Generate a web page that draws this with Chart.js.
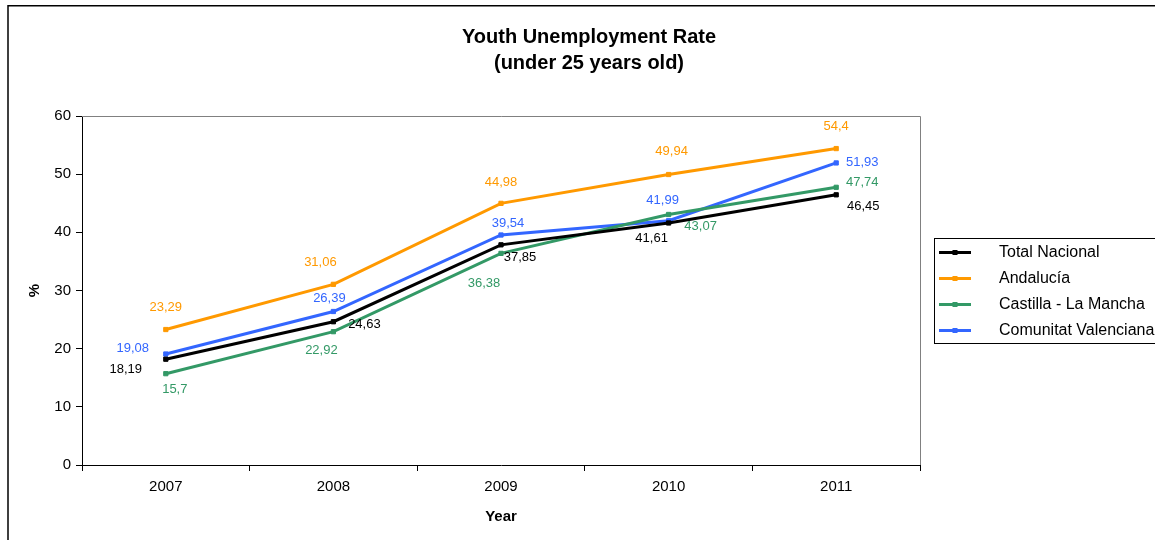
<!DOCTYPE html>
<html>
<head>
<meta charset="utf-8">
<script src="https://cdn.jsdelivr.net/npm/chart.js@4.4.1/dist/chart.umd.min.js"></script>
<style>
  html, body { margin: 0; padding: 0; background: #ffffff; }
  #wrap { width: 1155px; height: 540px; position: relative; }
</style>
</head>
<body>
<div id="wrap"><canvas id="c" width="1155" height="540"></canvas></div>
<script>
// ---- Data ----
const years = ['2007', '2008', '2009', '2010', '2011'];
const totalNacional = [18.19, 24.63, 37.85, 41.61, 46.45];
const andalucia = [23.29, 31.06, 44.98, 49.94, 54.4];
const castillaLaMancha = [15.7, 22.92, 36.38, 43.07, 47.74];
const comunitatValenciana = [19.08, 26.39, 39.54, 41.99, 51.93];
const seriesNames = ['Total Nacional', 'Andalucía', 'Castilla - La Mancha', 'Comunitat Valenciana'];
const titleLines = ['Youth Unemployment Rate', '(under 25 years old)'];
const yTitle = '%';
const xTitle = 'Year';

// ---- Styles ----
const FONT = '"Liberation Sans", Arial, sans-serif';
const lineColors = ['#000000', '#FF9900', '#339966', '#3366FF'];
const labelColors = ['#000000', '#FF9900', '#339966', '#3366FF'];
// label offsets (dx, dy) relative to each point, per series
const labelOffsets = [
  [[-40, 10], [31, 3], [19, 13], [-17, 15], [27, 12]],
  [[0, -22], [-13, -22], [0, -21], [3, -23], [0, -22]],
  [[9, 16], [-12, 19], [-17, 30], [32, 12], [26, -5]],
  [[-33, -6], [-4, -13], [7, -12], [-6, -20], [26, -1]]
];

const fmt = v => String(v).replace('.', ',');

const decorPlugin = {
  id: 'decor',
  beforeDraw(chart) {
    const ctx = chart.ctx;
    ctx.save();
    ctx.fillStyle = '#ffffff';
    ctx.fillRect(0, 0, chart.width, chart.height);
    // outer chart border (clipped at right/bottom)
    ctx.strokeStyle = '#000000';
    ctx.lineWidth = 1.5;
    ctx.strokeRect(8, 5.75, chart.width + 20, chart.height + 20);
    ctx.restore();
  },
  beforeDatasetsDraw(chart) {
    const ctx = chart.ctx;
    const a = chart.chartArea;
    ctx.save();
    ctx.strokeStyle = '#808080';
    ctx.lineWidth = 1;
    ctx.beginPath();
    ctx.moveTo(a.left, a.top + 0.5);
    ctx.lineTo(a.right + 0.5, a.top + 0.5);
    ctx.lineTo(a.right + 0.5, a.bottom);
    ctx.stroke();
    ctx.restore();
  },
  afterDraw(chart) {
    const ctx = chart.ctx;
    ctx.save();
    // title
    ctx.fillStyle = '#000000';
    ctx.font = 'bold 20px ' + FONT;
    ctx.textAlign = 'center';
    ctx.textBaseline = 'middle';
    ctx.fillText(titleLines[0], 589, 37);
    ctx.fillText(titleLines[1], 589, 63);

    // data labels
    ctx.font = '13px ' + FONT;
    chart.data.datasets.forEach((ds, di) => {
      const meta = chart.getDatasetMeta(di);
      meta.data.forEach((pt, i) => {
        const off = labelOffsets[di][i];
        ctx.fillStyle = labelColors[di];
        ctx.fillText(fmt(ds.data[i]), pt.x + off[0], pt.y + off[1]);
      });
    });

    // legend
    const lx = 934.5, ly = 238.5;
    ctx.strokeStyle = '#000000';
    ctx.lineWidth = 1;
    ctx.strokeRect(lx, ly, 400, 105);
    ctx.font = '16px ' + FONT;
    ctx.textAlign = 'left';
    chart.data.datasets.forEach((ds, di) => {
      const y = 252.5 + di * 26;
      ctx.strokeStyle = lineColors[di];
      ctx.lineWidth = 3;
      ctx.beginPath();
      ctx.moveTo(939, y);
      ctx.lineTo(971, y);
      ctx.stroke();
      ctx.fillStyle = lineColors[di];
      ctx.fillRect(952.5, y - 2.5, 5, 5);
      ctx.fillStyle = '#000000';
      ctx.fillText(ds.label, 999, y);
    });
    ctx.restore();
  }
};

const allSeries = [totalNacional, andalucia, castillaLaMancha, comunitatValenciana];

new Chart(document.getElementById('c'), {
  type: 'line',
  data: {
    labels: years,
    datasets: allSeries.map((d, i) => ({
      label: seriesNames[i],
      data: d,
      borderColor: lineColors[i],
      backgroundColor: lineColors[i],
      borderWidth: 3,
      pointStyle: 'rect',
      pointRadius: 3,
      pointBorderWidth: 1,
      pointBorderColor: lineColors[i],
      pointBackgroundColor: lineColors[i],
      tension: 0,
      fill: false
    }))
  },
  options: {
    responsive: false,
    animation: false,
    events: [],
    layout: { padding: { left: 10, top: 116, right: 235, bottom: 0 } },
    plugins: {
      legend: { display: false },
      title: { display: false },
      tooltip: { enabled: false }
    },
    scales: {
      x: {
        type: 'category',
        offset: true,
        grid: { display: true, offset: true, drawOnChartArea: false, tickLength: 6, color: '#000000', tickColor: '#000000' },
        border: { display: true, color: '#000000', width: 1 },
        ticks: { color: '#000000', font: { family: FONT, size: 15 }, padding: 7 },
        title: { display: true, text: xTitle, color: '#000000', font: { family: FONT, size: 15, weight: 'bold' }, padding: { top: 4, bottom: 14 } },
        afterFit(scale) { scale.height = 75; }
      },
      y: {
        min: 0, max: 60,
        ticks: { stepSize: 10, color: '#000000', font: { family: FONT, size: 15 }, padding: 5 },
        grid: { display: true, drawOnChartArea: false, tickLength: 6, color: '#000000', tickColor: '#000000' },
        border: { display: true, color: '#000000', width: 1 },
        title: { display: true, text: yTitle, color: '#000000', font: { family: FONT, size: 15, weight: 'bold' }, padding: { top: 16, bottom: 4 } },
        afterFit(scale) { scale.width = 72; }
      }
    }
  },
  plugins: [decorPlugin]
});
</script>
</body>
</html>
